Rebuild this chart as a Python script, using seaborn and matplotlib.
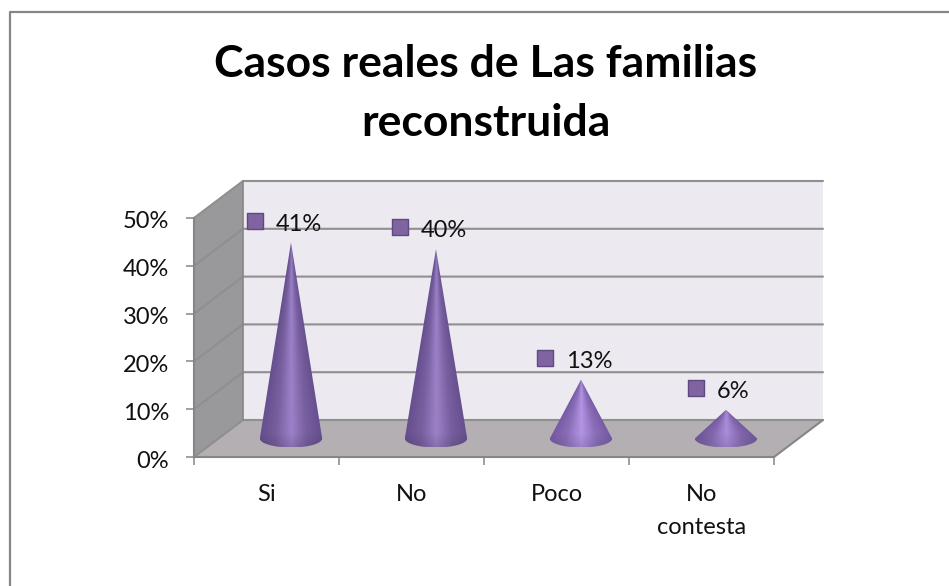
import numpy as np
import pandas as pd
import seaborn as sns
import matplotlib
matplotlib.use("Agg")
import matplotlib.pyplot as plt
from matplotlib.lines import Line2D
from matplotlib.patches import Polygon
from matplotlib.colors import LinearSegmentedColormap
from matplotlib.transforms import ScaledTranslation

categories = ["Si", "No", "Poco", "No\ncontesta"]
values = [41, 39.6, 12.3, 6]
value_labels = ["41%", "40%", "13%", "6%"]
cone_brightness = [1.0, 1.0, 1.15, 1.1]
y_ticks = [0, 10, 20, 30, 40, 50]
y_tick_labels = ["0%", "10%", "20%", "30%", "40%", "50%"]
title_lines = ["Casos reales de Las familias", "reconstruida"]

W, H = 949, 586
L, R, T, B = 194, 774, 218, 457
sns.set_theme(style="white")
plt.rcParams["font.family"] = ["Lato", "DejaVu Sans"]

fig = plt.figure(figsize=(W / 100, H / 100), dpi=100, facecolor="white")
ax = fig.add_axes([L / W, 1 - B / H, (R - L) / W, (B - T) / H])
df = pd.DataFrame({"cat": categories, "val": values})
sns.barplot(data=df, x="cat", y="val", ax=ax, width=0.43, facecolor="none", edgecolor="none")
ax.set_xlim(-0.5, 3.5)
ax.set_ylim(0, 50)
ax.set_xlabel("")
ax.set_ylabel("")

px_x = 4 / (R - L)
px_y = 50 / (B - T)
dx, dy = 49 * px_x, 37 * px_y
x0, x1 = -0.5, 3.5
grid_c = "#8f8f8f"
edge_c = "#868686"

# walls and floor
ax.add_patch(Polygon([(x0 + dx, dy), (x1 + dx, dy), (x1 + dx, 50 + dy), (x0 + dx, 50 + dy)],
                     fc="#ece9f1", ec="none", clip_on=False, zorder=1))
ax.add_patch(Polygon([(x0, 0), (x0 + dx, dy), (x0 + dx, 50 + dy), (x0, 50)],
                     fc="#99999b", ec="none", clip_on=False, zorder=1))
ax.add_patch(Polygon([(x0, 0), (x1, 0), (x1 + dx, dy), (x0 + dx, dy)],
                     fc="#b3afb3", ec="none", clip_on=False, zorder=1))
for v in y_ticks:
    ax.plot([x0, x0 + dx, x1 + dx], [v, v + dy, v + dy], color=grid_c, lw=1.5,
            clip_on=False, zorder=2)
ax.plot([x1, x1 + dx], [0, dy], color=edge_c, lw=1.5, clip_on=False, zorder=2)
ax.plot([x0 + dx, x0 + dx], [dy, 50 + dy], color=edge_c, lw=1.2, clip_on=False, zorder=2)

# cones, built from the bars seaborn laid out
cmap = LinearSegmentedColormap.from_list("cone", ["#664f8e", "#785f9f", "#9c81c8", "#785f9f", "#664f8e"])
cx_off, cy_off = dx / 2, dy / 2
rim = 9 * px_y
for bar, val, gain in zip(ax.patches, values, cone_brightness):
    c = bar.get_x() + bar.get_width() / 2 + cx_off
    hw = bar.get_width() / 2
    base = cy_off
    apex = val + cy_off
    xs = np.linspace(c - hw, c + hw, 220)
    ys = np.linspace(base - rim, apex, 420)
    X, Y = np.meshgrid(xs, ys)
    frac = np.clip((apex - Y) / (apex - base), 0.02, None)
    u = np.clip((X - c) / (hw * frac), -1, 1)
    rgb = cmap((u + 1) / 2)[..., :3] * gain
    shade = np.clip((Y - (base - rim)) / (1.6 * rim), 0, 1)
    rgb = np.clip(rgb * (0.88 + 0.12 * shade)[..., None], 0, 1)
    im = ax.imshow(rgb, extent=(c - hw, c + hw, base - rim, apex), origin="lower",
                   aspect="auto", zorder=3, interpolation="bilinear")
    t = np.linspace(np.pi, 2 * np.pi, 40)
    verts = [(c, apex)] + [(c + hw * np.cos(a), base + rim * np.sin(a)) for a in t]
    im.set_clip_path(Polygon(verts, closed=True, transform=ax.transData))
    im.set_clip_on(True)
ax.set_xlim(-0.5, 3.5)
ax.set_ylim(0, 50)

# data labels: square key + text above each apex
label_x, label_y = [], []
for i, (val, lab) in enumerate(zip(values, value_labels)):
    shift = -36 if len(lab) == 3 else -30
    mx = i + cx_off + shift * px_x
    my = val + cy_off + 22 * px_y
    label_x.append(mx)
    label_y.append(my)
    ax.text(mx + 21 * px_x, my - 3.5 * px_y, lab, fontsize=17, color="#111111", va="center",
            ha="left", zorder=6, clip_on=False)
sns.scatterplot(x=label_x, y=label_y, marker="s", s=125, color="#8064a2", edgecolor="#5f4a7f",
                linewidth=1.0, ax=ax, zorder=5, clip_on=False, legend=False)
ax.set_xlim(-0.5, 3.5)
ax.set_ylim(0, 50)

# axes furniture
for s in ("top", "right"):
    ax.spines[s].set_visible(False)
for s in ("left", "bottom"):
    ax.spines[s].set_color(edge_c)
    ax.spines[s].set_linewidth(1.5)
    ax.spines[s].set_zorder(2.5)
ax.set_yticks(y_ticks)
ax.set_yticklabels(y_tick_labels)
ax.tick_params(axis="y", length=6, width=1.1, color=edge_c, pad=12, labelsize=17, labelcolor="#111111", left=True)
nudge = ScaledTranslation(0, -2 / 100, fig.dpi_scale_trans)
for lab in ax.get_yticklabels():
    lab.set_transform(lab.get_transform() + nudge)
ax.set_xticks([x0 + i for i in range(5)])
ax.set_xticklabels([""] * 5)
ax.tick_params(axis="x", which="major", length=6, width=1.1, color=edge_c, bottom=True)
ax.set_xticks(range(4), minor=True)
ax.set_xticklabels(categories, minor=True, fontsize=17, color="#111111", linespacing=1.72)
ax.tick_params(axis="x", which="minor", length=0, pad=19.5, bottom=False)

fig.text(486 / W, 1 - 77 / H, title_lines[0], fontsize=32, fontweight="bold",
         ha="center", va="baseline", color="black")
fig.text(486 / W, 1 - 136 / H, title_lines[1], fontsize=32, fontweight="bold",
         ha="center", va="baseline", color="black")
fig.add_artist(Line2D([10 / W, 10 / W, 1], [0, 1 - 12 / H, 1 - 12 / H], transform=fig.transFigure,
                      color="#868686", lw=1.6))
fig.savefig("out.png", dpi=100, facecolor="white")
